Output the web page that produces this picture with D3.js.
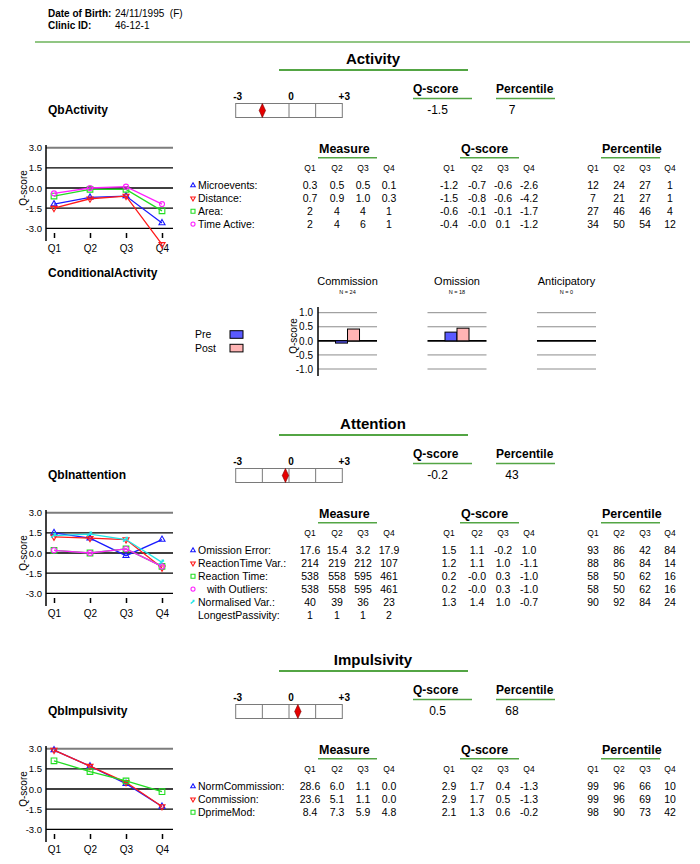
<!DOCTYPE html>
<html><head><meta charset="utf-8">
<script src="https://cdn.jsdelivr.net/npm/d3@7"></script>
<style>body{margin:0;background:#fff}svg{display:block}</style>
</head><body><script>
// ---------- DATA ----------
const quarters = ["Q1","Q2","Q3","Q4"];
const gridLevels = [3, 1.5, 0, -1.5, -3];
const barLevels = [1.0, 0.5, 0.0, -0.5, -1.0];
const gaugeTicks = [-3, 0, 3];
const gaugeTickLabels = ["-3", "0", "+3"];

const sectionTitles = ["Activity", "Attention", "Impulsivity"];
const sectionLabels = ["QbActivity", "QbInattention", "QbImpulsivity"];
const summaryQ = [-1.5, -0.2, 0.5];
const summaryP = [7, 43, 68];

const actNames = ["Microevents:", "Distance:", "Area:", "Time Active:"];
const actMeasure = [["0.3","0.5","0.5","0.1"],["0.7","0.9","1.0","0.3"],["2","4","4","1"],["2","4","6","1"]];
const actQ = [[-1.2,-0.7,-0.6,-2.6],[-1.5,-0.8,-0.6,-4.2],[-0.6,-0.1,-0.1,-1.7],[-0.4,-0.0,0.1,-1.2]];
const actP = [[12,24,27,1],[7,21,27,1],[27,46,46,4],[34,50,54,12]];

const attNames = ["Omission Error:", "ReactionTime Var.:", "Reaction Time:", "with Outliers:", "Normalised Var.:", "LongestPassivity:"];
const attMeasure = [["17.6","15.4","3.2","17.9"],["214","219","212","107"],["538","558","595","461"],["538","558","595","461"],["40","39","36","23"],["1","1","1","2"]];
const attQ = [[1.5,1.1,-0.2,1.0],[1.2,1.1,1.0,-1.1],[0.2,-0.0,0.3,-1.0],[0.2,-0.0,0.3,-1.0],[1.3,1.4,1.0,-0.7]];
const attP = [[93,86,42,84],[88,86,84,14],[58,50,62,16],[58,50,62,16],[90,92,84,24]];

const impNames = ["NormCommission:", "Commission:", "DprimeMod:"];
const impMeasure = [["28.6","6.0","1.1","0.0"],["23.6","5.1","1.1","0.0"],["8.4","7.3","5.9","4.8"]];
const impQ = [[2.9,1.7,0.4,-1.3],[2.9,1.7,0.5,-1.3],[2.1,1.3,0.6,-0.2]];
const impP = [[99,96,66,10],[99,96,69,10],[98,90,73,42]];

const seriesColors = ["#1a1aff", "#ff1a1a", "#22dd22", "#ff22ff", "#22e6e6"];
const seriesShapes = ["up", "down", "square", "circle", "tick"];

const condGroups = ["Commission", "Omission", "Anticipatory"];
const condN = ["N = 24", "N = 18", "N = 0"];
const condPhases = ["Pre", "Post"];
const condPre = [-0.08, 0.31, 0];
const condPost = [0.42, 0.45, 0];
const condColors = ["#5a5aff", "#ffb4b4"];

// ---------- DRAW ----------
const FONT = '"Liberation Sans", Arial, Helvetica, sans-serif';
const GREEN = "#53a544";
const svg = d3.select("body").append("svg").attr("width", 700).attr("height", 864)
  .attr("font-family", FONT);

function txt(g, x, y, s, o = {}) {
  return g.append("text").attr("x", x).attr("y", y).text(s)
    .attr("font-size", o.size || 10)
    .attr("font-weight", o.bold ? "bold" : null)
    .attr("text-anchor", o.anchor || "start")
    .attr("fill", o.fill || "#000");
}
const fmtQ = v => (Object.is(v, -0) ? "-0.0" : v.toFixed(1));

function symbolPath(shape, size) {
  if (shape === "up") return d3.symbol().type(d3.symbolTriangle).size(size)();
  if (shape === "down") return d3.symbol().type(d3.symbolTriangle).size(size)();
  if (shape === "square") return d3.symbol().type(d3.symbolSquare).size(size)();
  if (shape === "circle") return d3.symbol().type(d3.symbolCircle).size(size)();
  const k = Math.sqrt(size) / 4;
  return `M${-3*k},${2*k}L${2*k},${-2*k}M${-0.5*k},${-2*k}L${2*k},${-2*k}`;
}
function drawMarker(g, shape, color, x, y, size) {
  g.append("path").attr("d", symbolPath(shape, size))
    .attr("transform", `translate(${x},${y})` + (shape === "down" ? " rotate(180)" : ""))
    .attr("fill", "none").attr("stroke", color)
    .attr("stroke-width", shape === "tick" ? 1.6 : 1.1);
}

// header
txt(svg, 48, 17, "Date of Birth:", {bold: true, size: 10});
txt(svg, 115, 17, "24/11/1995\u00a0\u00a0(F)", {size: 10});
txt(svg, 48, 29, "Clinic ID:", {bold: true, size: 10});
txt(svg, 115, 29, "46-12-1", {size: 10});
svg.append("line").attr("x1", 35).attr("x2", 690).attr("y1", 42).attr("y2", 42)
  .attr("stroke", "#6db35a").attr("stroke-width", 1.5);

function drawSection(i, off, names, measure, qs, ps) {
  const g = svg.append("g");
  // title
  txt(g, 373, off + 64, sectionTitles[i], {bold: true, size: 15, anchor: "middle"});
  g.append("line").attr("x1", 279).attr("x2", 468).attr("y1", off + 70).attr("y2", off + 70)
    .attr("stroke", GREEN).attr("stroke-width", 2);
  // label
  txt(g, 48, off + 114, sectionLabels[i], {bold: true, size: 12});
  // gauge
  const gx = d3.scaleLinear().domain([-3, 3]).range([235.7, 342.3]);
  g.append("rect").attr("x", gx(-3)).attr("y", off + 103.5).attr("width", gx(3) - gx(-3)).attr("height", 14)
    .attr("fill", "#fff").attr("stroke", "#7a7a7a").attr("stroke-width", 1);
  g.selectAll(null).data([-1.5, 0, 1.5]).join("line")
    .attr("x1", d => gx(d)).attr("x2", d => gx(d)).attr("y1", off + 103.5).attr("y2", off + 117.5)
    .attr("stroke", "#7a7a7a");
  gaugeTicks.forEach((t, k) => txt(g, gx(t) + 2, off + 100, gaugeTickLabels[k], {bold: true, size: 10, anchor: "middle"}));
  const mx = gx(summaryQ[i]);
  g.append("path").attr("d", `M${mx},${off+103.5}L${mx+3.2},${off+110.5}L${mx},${off+117.5}L${mx-3.2},${off+110.5}Z`)
    .attr("fill", "#e60000").attr("stroke", "#700").attr("stroke-width", 0.6);
  // summary
  txt(g, 413, off + 93, "Q-score", {bold: true, size: 12});
  g.append("line").attr("x1", 413).attr("x2", 472).attr("y1", off + 98.5).attr("y2", off + 98.5).attr("stroke", GREEN).attr("stroke-width", 1.5);
  txt(g, 437.5, off + 114, fmtQ(summaryQ[i]), {size: 12, anchor: "middle"});
  txt(g, 496, off + 93, "Percentile", {bold: true, size: 12});
  g.append("line").attr("x1", 496).attr("x2", 555).attr("y1", off + 98.5).attr("y2", off + 98.5).attr("stroke", GREEN).attr("stroke-width", 1.5);
  txt(g, 512, off + 114, String(summaryP[i]), {size: 12, anchor: "middle"});

  // line chart
  const x = d3.scalePoint().domain(quarters).range([54, 162]);
  const y = d3.scaleLinear().domain([-3, 3]).range([228.3 + off, 147.7 + off]);
  g.selectAll(null).data(gridLevels).join("line")
    .attr("x1", 46).attr("x2", 173).attr("y1", d => y(d)).attr("y2", d => y(d))
    .attr("stroke", d => d === 3 ? "#7d7d7d" : "#000")
    .attr("stroke-width", d => d === 3 ? 2 : (d === 0 ? 1.6 : 1.2));
  const ya = g.append("g").attr("transform", "translate(46,0)")
    .call(d3.axisLeft(y).tickValues(gridLevels).tickFormat(d => d.toFixed(1)).tickSize(0).tickPadding(4));
  ya.select(".domain").remove();
  ya.attr("font-family", FONT).attr("font-size", 9.5);
  g.append("line").attr("x1", 46).attr("x2", 46).attr("y1", off + 145).attr("y2", off + 241)
    .attr("stroke", "#000").attr("stroke-width", 1.5);
  const xa = g.append("g").attr("transform", `translate(0,${off + 233})`)
    .call(d3.axisBottom(x).tickSize(5).tickPadding(7));
  xa.select(".domain").remove();
  xa.attr("font-family", FONT).attr("font-size", 10);
  xa.selectAll(".tick line").attr("stroke-width", 1.5);
  g.append("text").attr("transform", `translate(27,${off + 188}) rotate(-90)`)
    .attr("text-anchor", "middle").attr("font-size", 10).text("Q-score");
  const line = d3.line().x((d, k) => x(quarters[k])).y(d => y(d));
  qs.forEach((row, s) => {
    g.append("path").attr("d", line(row)).attr("fill", "none")
      .attr("stroke", seriesColors[s]).attr("stroke-width", 1.3);
    row.forEach((v, k) => drawMarker(g, seriesShapes[s], seriesColors[s], x(quarters[k]), y(v), s === 3 ? 20 : (s === 2 ? 32 : 16)));
  });

  // table
  const mX = [310, 337, 363, 389], qX = [449, 477, 503, 529], pX = [593, 619, 645, 670];
  [["Measure", 319, mX], ["Q-score", 461, qX], ["Percentile", 602, pX]].forEach(([h, hx, cols]) => {
    txt(g, hx, off + 153, h, {bold: true, size: 12.5});
    g.append("line").attr("x1", hx - 1).attr("x2", hx + 58).attr("y1", off + 157.7).attr("y2", off + 157.7)
      .attr("stroke", GREEN).attr("stroke-width", 1.5);
    quarters.forEach((q, k) => txt(g, cols[k], off + 170.5, q, {size: 8.5, anchor: "middle"}));
  });
  names.forEach((nm, r) => {
    const by = off + 189 + r * 12.9;
    const indent = nm === "with Outliers:" ? 9 : 0;
    if (r < qs.length) drawMarker(g, seriesShapes[r], seriesColors[r], 193, by - 3.6, r === 3 ? 13 : (r === 2 ? 16 : 9));
    txt(g, 198 + indent, by, nm, {size: 10.5});
    measure[r].forEach((m, k) => txt(g, mX[k], by, m, {size: 10.5, anchor: "middle"}));
    if (r < qs.length) {
      qs[r].forEach((v, k) => txt(g, qX[k], by, fmtQ(v), {size: 10.5, anchor: "middle"}));
      ps[r].forEach((v, k) => txt(g, pX[k], by, String(v), {size: 10.5, anchor: "middle"}));
    }
  });
}

drawSection(0, 0, actNames, actMeasure, actQ, actP);
drawSection(1, 365, attNames, attMeasure, attQ, attP);
drawSection(2, 601, impNames, impMeasure, impQ, impP);

// conditional activity
(function () {
  const g = svg.append("g");
  txt(g, 48, 277, "ConditionalActivity", {bold: true, size: 12});
  const yb = d3.scaleLinear().domain([-1, 1]).range([369, 312.7]);
  const gb = d3.scaleBand().domain(condGroups).range([318, 596]).paddingInner(0.461).paddingOuter(0);
  const pb = d3.scaleBand().domain(condPhases).range([0, gb.bandwidth()]).paddingInner(0).paddingOuter(1.458);
  condGroups.forEach((grp, i) => {
    const x0 = gb(grp), x1 = x0 + gb.bandwidth(), cx = x0 + gb.bandwidth() / 2;
    txt(g, cx, 285, grp, {size: 11, anchor: "middle"});
    txt(g, cx, 294, condN[i], {size: 5.5, anchor: "middle"});
    g.selectAll(null).data(barLevels).join("line")
      .attr("x1", x0).attr("x2", x1).attr("y1", d => yb(d)).attr("y2", d => yb(d))
      .attr("stroke", d => d === 0 ? "#000" : "#8c8c8c").attr("stroke-width", d => d === 0 ? 1.6 : 1);
    [condPre[i], condPost[i]].forEach((v, k) => {
      g.append("rect").attr("x", x0 + pb(condPhases[k])).attr("width", pb.bandwidth())
        .attr("y", Math.min(yb(v), yb(0))).attr("height", Math.abs(yb(v) - yb(0)))
        .attr("fill", condColors[k]).attr("stroke", "#000").attr("stroke-width", 1);
    });
  });
  const ax = g.append("g").attr("transform", "translate(318,0)")
    .call(d3.axisLeft(yb).tickValues(barLevels).tickFormat(d => d.toFixed(1)).tickSize(0).tickPadding(5));
  ax.select(".domain").remove();
  ax.attr("font-family", FONT).attr("font-size", 10);
  g.append("line").attr("x1", 318).attr("x2", 318).attr("y1", 307).attr("y2", 376)
    .attr("stroke", "#000").attr("stroke-width", 1.5);
  g.append("text").attr("transform", "translate(297,336) rotate(-90)")
    .attr("text-anchor", "middle").attr("font-size", 10).text("Q-score");
  // legend
  condPhases.forEach((p, k) => {
    txt(g, 195, 338 + k * 14, p, {size: 10.5});
    g.append("rect").attr("x", 230).attr("y", 330.7 + k * 13.6).attr("width", 13).attr("height", 7.6)
      .attr("fill", condColors[k]).attr("stroke", "#000").attr("stroke-width", 1);
  });
})();
</script></body></html>
